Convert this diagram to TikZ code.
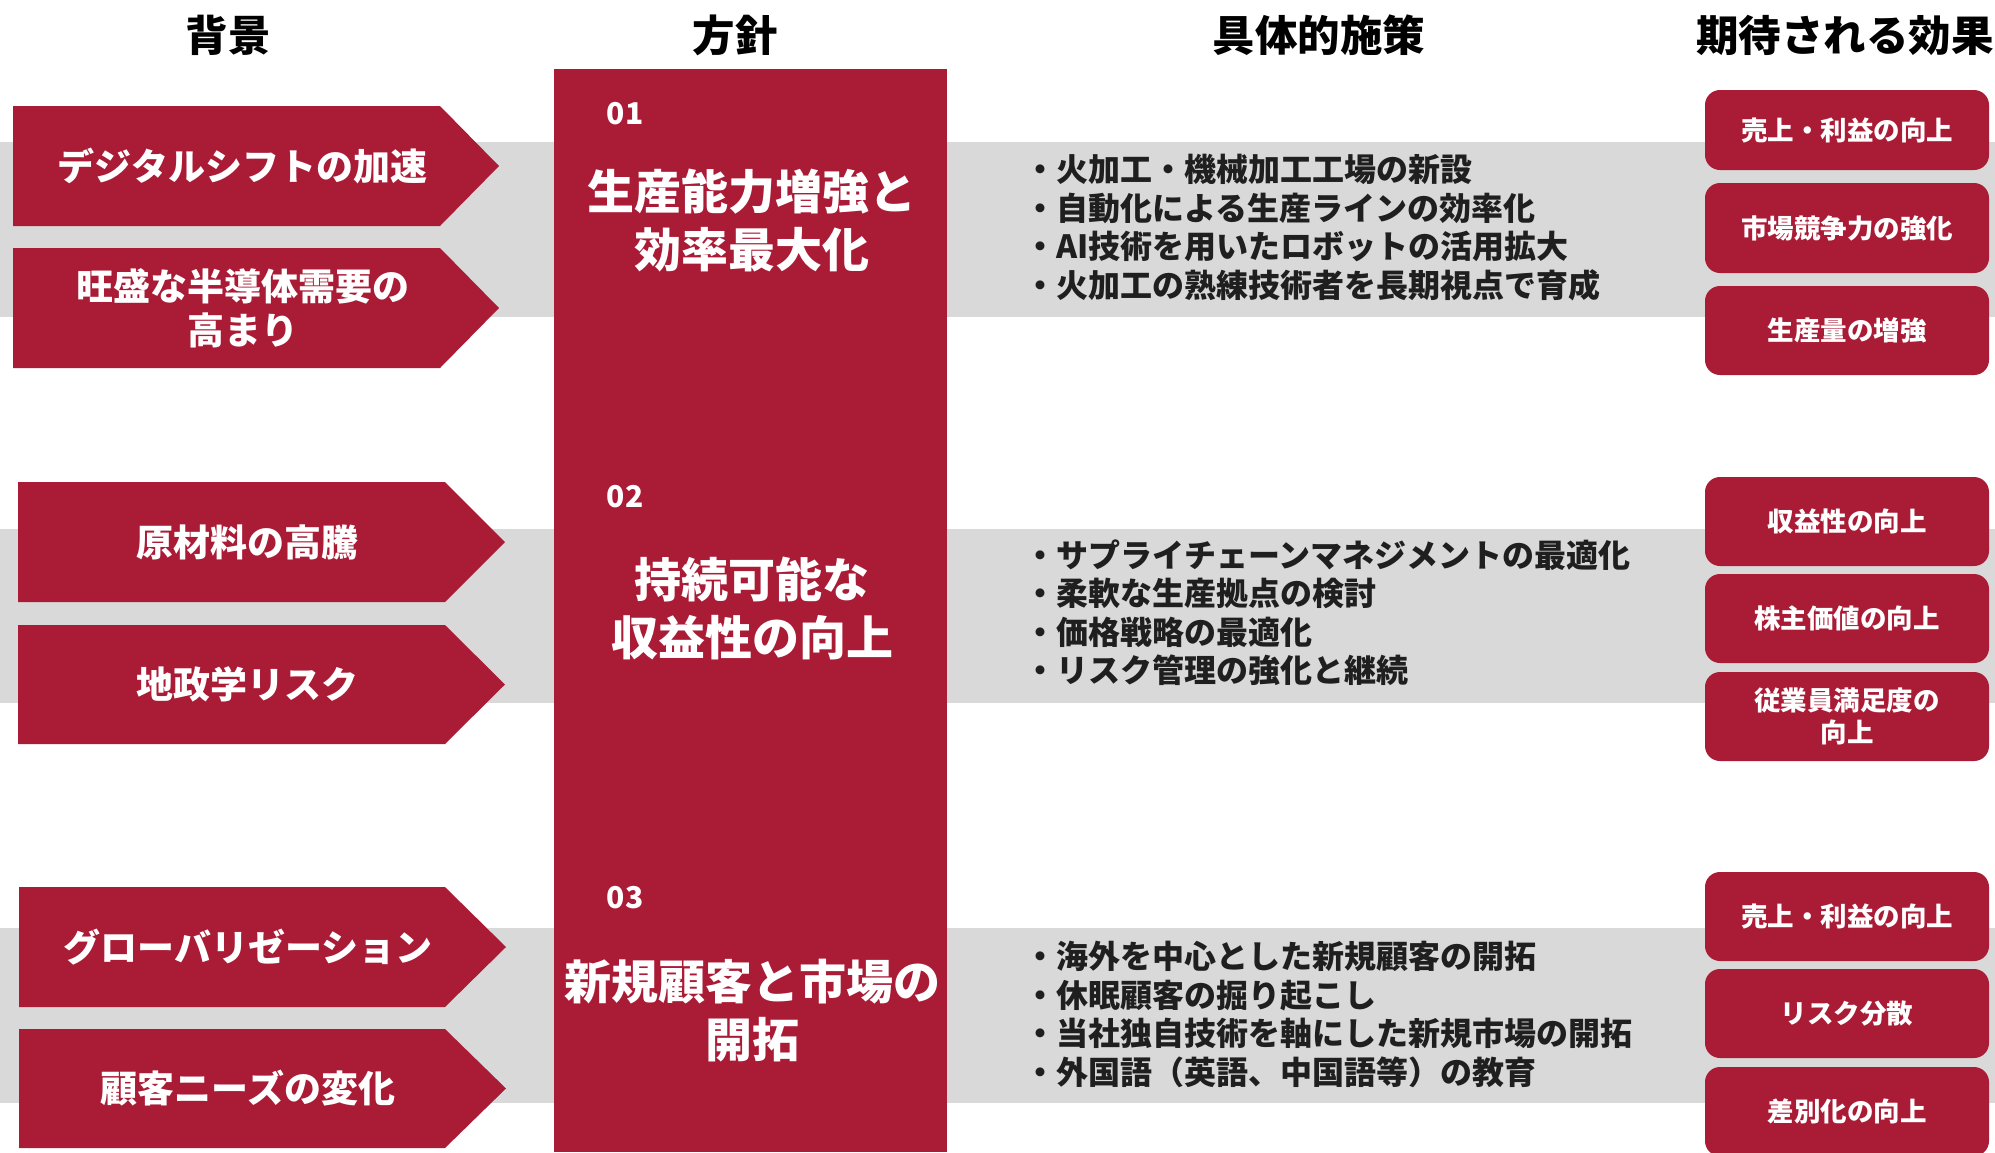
\documentclass[tikz,border=0pt]{standalone}
\usepackage{fontspec}
\setmainfont{Noto Sans CJK JP}
\definecolor{crimson}{HTML}{AA1B36}
\definecolor{bandgray}{HTML}{D9D9D9}
\begin{document}
\begin{tikzpicture}[x=1pt,y=-1pt,
    band/.style={fill=bandgray},
    causebox/.style={fill=crimson},
    policybox/.style={fill=crimson,inner sep=0pt,minimum width=393pt,minimum height=1083pt},
    effectbox/.style={fill=crimson,rounded corners=15pt,minimum width=284pt,inner sep=0pt},
    head/.style={font=\fontsize{42.5}{50}\selectfont\bfseries,text=black},
    causetext/.style={font=\fontsize{37}{44}\selectfont\bfseries,text=white,align=center},
    numtext/.style={font=\fontsize{30}{36}\selectfont\bfseries,text=white},
    policytext/.style={font=\fontsize{47}{58}\selectfont\bfseries,text=white,align=center},
    measuretext/.style={font=\fontsize{32}{38.5}\selectfont\bfseries,text=black!88,align=left,anchor=west,inner sep=0pt},
    effecttext/.style={font=\fontsize{26.5}{32}\selectfont\bfseries,text=white,align=center}]
\useasboundingbox (0,0) rectangle (1995,1152);
% gray bands behind each row
\foreach \ya/\yb in {142/317,529/703,928/1103}
    \fill[band] (0,\ya) rectangle (1995,\yb);
% column headings
\node[head] (hbg) at (228,35) {背景};
\node[head] (hpol) at (735,35) {方針};
\node[head] (hmeas) at (1319,35) {具体的施策};
\node[head] (heff) at (1845,35) {期待される効果};
% background arrows
\foreach \n/\l/\r/\t/\ya/\yb/\txt in {
    bg1/13/440/499/106/226/{デジタルシフトの加速},
    bg2/13/440/499/248/368/{旺盛な半導体需要の\\高まり},
    bg3/18/445/505/482/602/{原材料の高騰},
    bg4/18/445/505/625/744/{地政学リスク},
    bg5/19/445/506/887/1007/{グローバリゼーション},
    bg6/19/445/506/1029/1148/{顧客ニーズの変化}}{
    \fill[causebox] (\l,\ya) -- (\r,\ya) -- (\t,{(\ya+\yb)/2}) -- (\r,\yb) -- (\l,\yb) -- cycle;
    \node[causetext] (\n) at ({(\l+\r)/2+16},{(\ya+\yb)/2}) {\txt};
}
% policy column
\node[policybox] (pol) at (750.5,610.5) {};
\node[numtext] (num1) at (625,114) {01};
\node[numtext] (num2) at (625,497) {02};
\node[numtext] (num3) at (625,898) {03};
\node[policytext] (pol1) at (752,221) {生産能力増強と\\効率最大化};
\node[policytext] (pol2) at (752,608) {持続可能な\\収益性の向上};
\node[policytext] (pol3) at (752,1011) {新規顧客と市場の\\開拓};
% measures
\node[measuretext] (meas1) at (1024,227.5) {・火加工・機械加工工場の新設\\・自動化による生産ラインの効率化\\・AI技術を用いたロボットの活用拡大\\・火加工の熟練技術者を長期視点で育成};
\node[measuretext] (meas2) at (1024,612.75) {・サプライチェーンマネジメントの最適化\\・柔軟な生産拠点の検討\\・価格戦略の最適化\\・リスク管理の強化と継続};
\node[measuretext] (meas3) at (1024,1014.25) {・海外を中心とした新規顧客の開拓\\・休眠顧客の掘り起こし\\・当社独自技術を軸にした新規市場の開拓\\・外国語（英語、中国語等）の教育};
% expected effects
\foreach \n/\cy/\h/\txt in {
    eff1/130/80/{売上・利益の向上},
    eff2/228/90/{市場競争力の強化},
    eff3/330.5/89/{生産量の増強},
    eff4/521.5/89/{収益性の向上},
    eff5/618.5/89/{株主価値の向上},
    eff6/716.5/89/{従業員満足度の\\向上},
    eff7/916.5/89/{売上・利益の向上},
    eff8/1013.5/89/{リスク分散},
    eff9/1111.5/89/{差別化の向上}}{
    \node[effectbox,minimum height=\h pt] (\n) at (1847,\cy) {};
    \node[effecttext] at (\n) {\txt};
}
\end{tikzpicture}
\end{document}
